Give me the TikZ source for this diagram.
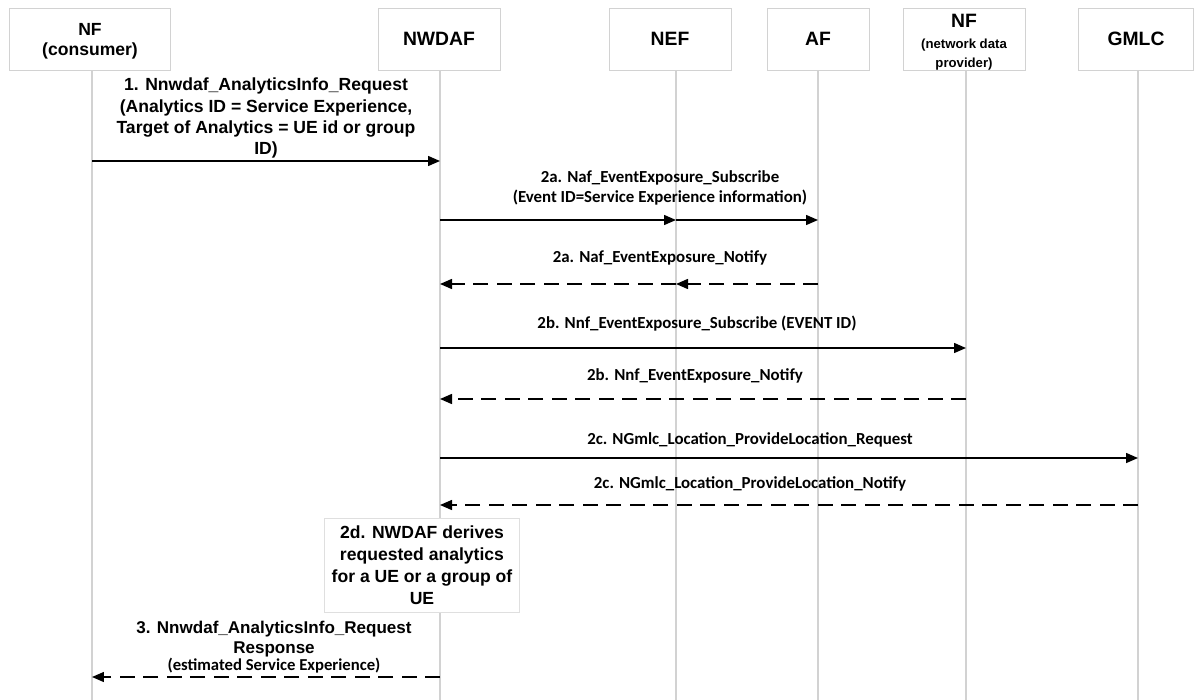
\documentclass[tikz,border=0pt]{standalone}
\usepackage{fontspec}
\setmainfont{Liberation Sans}
\newfontfamily\calfont{Carlito}
\usetikzlibrary{arrows.meta, positioning}
\tikzset{
	partbox/.style={draw=gray!35, fill=white, minimum height=1.24cm, align=center, font=\bfseries\fontsize{11}{13}\selectfont},
	lifeline/.style={draw=gray!35, line width=0.6pt},
	msgarr/.style={-{Triangle[length=0.24cm, width=0.2cm]}, line width=0.85pt},
	replyarr/.style={msgarr, dash pattern=on 0.3cm off 0.17cm},
	reqlabel/.style={align=center, font=\bfseries\fontsize{10}{12}\selectfont},
	msglabel/.style={align=center, font=\calfont\bfseries\fontsize{9.6}{11.5}\selectfont},
	notebox/.style={draw=gray!25, fill=white, align=center, minimum width=3.9cm, minimum height=1.88cm, font=\bfseries\fontsize{10}{12.6}\selectfont},
}

\begin{document}
\begin{tikzpicture}[x=0.02cm, y=-0.02cm]
	\useasboundingbox (0,0) rectangle (1194,700);
	% participants
	\node[partbox, minimum width=3.22cm] (nfc) at (90,39) {};
	\node[align=center, font=\bfseries\fontsize{10}{11.5}\selectfont] (nfct) at (90,41) {NF\\(consumer)};
	\node[partbox, minimum width=2.44cm] (nwdaf) at (439,39) {NWDAF};
	\node[partbox, minimum width=2.44cm] (nef) at (670,39) {NEF};
	\node[partbox, minimum width=2.04cm] (af) at (818,39) {AF};
	\node[partbox, minimum width=2.44cm] (nfp) at (964,39) {};
	\node[align=center, font=\bfseries\fontsize{11}{13}\selectfont] (nfpt) at (964,42) {NF\\[-1pt]{\fontsize{7.5}{9}\selectfont(network data}\\[-2pt]{\fontsize{7.5}{9}\selectfont provider)}};
	\node[partbox, minimum width=2.3cm] (gmlc) at (1136,39) {GMLC};
	% lifelines
	\coordinate (nfcL) at (92,70);
	\coordinate (nwdafL) at (440,70);
	\coordinate (nefL) at (676,70);
	\coordinate (afL) at (818,70);
	\coordinate (nfpL) at (966,70);
	\coordinate (gmlcL) at (1138,70);
	\foreach \p in {nfcL, nwdafL, nefL, afL, nfpL, gmlcL}
		\draw[lifeline] (\p) -- (\p |- 0,700);

	% 1
	\node[reqlabel] (l1) at (266,118) {1. Nnwdaf\_AnalyticsInfo\_Request\\(Analytics ID = Service Experience,\\Target of Analytics = UE id or group\\ID)};
	\draw[msgarr] (nfcL |- 0,161) -- (nwdafL |- 0,161);

	% 2a
	\node[msglabel] (l2a) at (660,188) {2a. Naf\_EventExposure\_Subscribe\\(Event ID=Service Experience information)};
	\draw[msgarr] (nwdafL |- 0,220) -- (nefL |- 0,220);
	\draw[msgarr] (nefL |- 0,220) -- (afL |- 0,220);
	\node[msglabel] (l2an) at (660,258) {2a. Naf\_EventExposure\_Notify};
	\draw[replyarr] (afL |- 0,284) -- (nefL |- 0,284);
	\draw[replyarr] (nefL |- 0,284) -- (nwdafL |- 0,284);

	% 2b
	\node[msglabel] (l2b) at (697,324) {2b. Nnf\_EventExposure\_Subscribe (EVENT ID)};
	\draw[msgarr] (nwdafL |- 0,348) -- (nfpL |- 0,348);
	\node[msglabel] (l2bn) at (695,376) {2b. Nnf\_EventExposure\_Notify};
	\draw[replyarr] (nfpL |- 0,399) -- (nwdafL |- 0,399);

	% 2c
	\node[msglabel] (l2c) at (750,440) {2c. NGmlc\_Location\_ProvideLocation\_Request};
	\draw[msgarr] (nwdafL |- 0,458) -- (gmlcL |- 0,458);
	\node[msglabel] (l2cn) at (750,484) {2c. NGmlc\_Location\_ProvideLocation\_Notify};
	\draw[replyarr] (gmlcL |- 0,505) -- (nwdafL |- 0,505);

	% 2d
	\node[notebox] (n2d) at (422,565) {2d. NWDAF derives\\requested analytics\\for a UE or a group of\\UE};

	% 3
	\node[reqlabel, font=\bfseries\fontsize{9.7}{11.5}\selectfont] (l3) at (274,647) {3. Nnwdaf\_AnalyticsInfo\_Request\\Response\\[-2pt]{\calfont\fontsize{9.5}{10}\selectfont(estimated Service Experience)}};
	\draw[replyarr] (nwdafL |- 0,677) -- (nfcL |- 0,677);
\end{tikzpicture}
\end{document}
